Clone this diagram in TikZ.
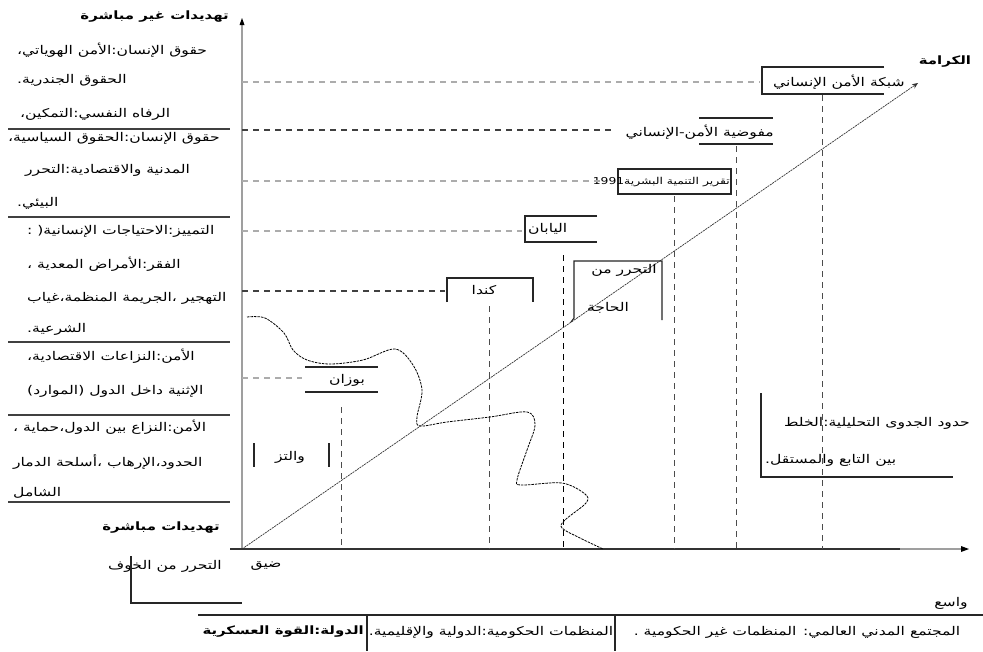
\documentclass[tikz,border=0pt]{standalone}
\usepackage{fontspec}
\newfontfamily\arabicfont[Script=Arabic,FakeStretch=1.3]{DejaVu Sans}
\TeXXeTstate=1
\usetikzlibrary{arrows.meta}
\newcommand{\artxt}[1]{{\arabicfont\beginR #1\endR}}
\begin{document}
\begin{tikzpicture}[x=1pt,y=-1pt,
  lbl/.style={inner sep=0pt,font=\fontsize{12}{14}\selectfont},
  lblb/.style={inner sep=0pt,font=\fontsize{11.5}{14}\selectfont\bfseries},
  lbls/.style={inner sep=0pt,font=\fontsize{9.5}{12}\selectfont},
  axisline/.style={draw=gray!75,line width=1.3pt},
  hdash/.style={draw=gray!65,line width=1.2pt,dash pattern=on 6pt off 5pt},
  hdashdark/.style={draw=gray!50!black,line width=1.3pt,dash pattern=on 6pt off 5pt},
  vdash/.style={draw=black!70,line width=1pt,dash pattern=on 6pt off 5pt},
  boxline/.style={draw=black!85,line width=1.1pt},
  sepline/.style={draw=black!75,line width=1.3pt},
  wavy/.style={draw=black,line width=0.8pt,dash pattern=on 2.5pt off 1pt},
  diag/.style={draw=black!80,line width=0.7pt,dash pattern=on 2pt off 0.8pt}
]
\useasboundingbox[fill=white] (0,0) rectangle (983,651);

% axes
\coordinate (O) at (242,549);
\coordinate (Ytop) at (242,20);
\coordinate (Xleft) at (230,549);
\coordinate (Xend) at (967,549);
\draw[axisline] (O) -- (Ytop);
\fill[black] (242,18) -- (239.5,25) -- (244.5,25) -- cycle;
\draw[axisline,draw=black!80] (Xleft) -- (900,549);
\draw[axisline] (900,549) -- (Xend);
\fill[black] (969,549) -- (961,546) -- (961,552) -- cycle;

% diagonal
\coordinate (Dtop) at (918,83);
\draw[diag,-{Stealth[length=6pt,width=5pt]}] (O) -- (Dtop);

% boxes on chart
\draw[boxline] (884,67) -- (762,67) -- (762,94) -- (884,94);
\node[lbl,anchor=east] (hsn) at (905,82) {\artxt{شبكة الأمن الإنساني}};

\draw[boxline] (699,118) -- (773,118);
\draw[boxline] (699,144) -- (773,144);
\node[lbl,anchor=east] (chs) at (774,132) {\artxt{مفوضية الأمن-الإنساني}};

\draw[boxline] (618,169) rectangle (731,194);
\node[lbls,anchor=east] (hdr) at (730,182) {\artxt{تقرير التنمية البشرية\beginL 1991\endL}};

\draw[boxline] (597,216) -- (525,216) -- (525,242) -- (597,242);
\node[lbl,anchor=west] (jap) at (528,229) {\artxt{اليابان}};

\draw[boxline] (447,302) -- (447,278) -- (533,278) -- (533,302);
\node[lbl] (can) at (484,290) {\artxt{كندا}};

\draw[boxline] (571,322) -- (574,318) -- (574,261) -- (662,261) -- (662,320);
\node[lbl] (want1) at (624,270) {\artxt{التحرر من}};
\node[lbl] (want2) at (608,308) {\artxt{الحاجة}};

\draw[boxline] (305,367) -- (378,367);
\draw[boxline] (305,392) -- (378,392);
\node[lbl] (buz) at (347,380) {\artxt{بوزان}};

\draw[boxline] (254,443) -- (254,467);
\draw[boxline] (329,443) -- (329,467);
\node[lbl] (wal) at (290,457) {\artxt{والتز}};

% horizontal dashed guides
\draw[hdash] (242,82) -- (760,82);
\draw[hdashdark] (242,130) -- (612,130);
\draw[hdash] (242,181) -- (600,181);
\draw[hdash] (242,231) -- (522,231);
\draw[hdashdark,draw=black!75] (242,291) -- (445,291);
\draw[hdash] (242,378) -- (302,378);

% vertical dashed guides
\draw[vdash] (341,407) -- (341,549);
\draw[vdash] (489,306) -- (489,549);
\draw[vdash,draw=black] (563,255) -- (563,549);
\draw[vdash] (674,196) -- (674,549);
\draw[vdash] (736,146) -- (736,549);
\draw[vdash] (822,95) -- (822,549);

% wavy curve
\draw[wavy] plot[smooth,tension=0.55] coordinates {
 (247,317) (265,318) (284,333) (293,350) (307,360) (330,364) (363,360)
 (395,349) (413,365) (422,390) (417,417) (420,426) (447,422) (490,417)
 (527,412) (535,425) (527,450) (517,480) (522,485) (562,483) (585,494)
 (586,503) (565,520) (562,528) (580,538) (603,549)};

% axis labels
\node[lblb] (dign) at (945,62) {\artxt{الكرامة}};
\node[lbl] (narrow) at (266,566) {\artxt{ضيق}};
\node[lbl] (wide) at (951,603) {\artxt{واسع}};

% bracket bottom right
\draw[boxline] (761,393) -- (761,477) -- (953,477);
\node[lbl,anchor=east] (lim1) at (970,423) {\artxt{حدود الجدوى التحليلية:الخلط}};
\node[lbl,anchor=west] (lim2) at (765,460) {\artxt{بين التابع والمستقل.}};

% left column
\node[lblb,anchor=east] (ind) at (229,17) {\artxt{تهديدات غير مباشرة}};
\node[lbl,anchor=west] (a1) at (17,50) {\artxt{حقوق الإنسان:الأمن الهوياتي،}};
\node[lbl,anchor=west] (a2) at (17,80) {\artxt{الحقوق الجندرية.}};
\node[lbl,anchor=west] (a3) at (20,114) {\artxt{الرفاه النفسي:التمكين،}};
\draw[sepline] (8,129) -- (230,129);
\node[lbl,anchor=west] (b1) at (8,138) {\artxt{حقوق الإنسان:الحقوق السياسية،}};
\node[lbl,anchor=west] (b2) at (25,170) {\artxt{المدنية والاقتصادية:التحرر}};
\node[lbl,anchor=west] (b3) at (17,203) {\artxt{البيئي.}};
\draw[sepline] (8,217) -- (230,217);
\node[lbl,anchor=west] (c1) at (27,231) {\artxt{التمييز:الاحتياجات الإنسانية( :}};
\node[lbl,anchor=west] (c2) at (27,264) {\artxt{الفقر:الأمراض المعدية ،}};
\node[lbl,anchor=west] (c3) at (27,298) {\artxt{التهجير ،الجريمة المنظمة،غياب}};
\node[lbl,anchor=west] (c4) at (27,329) {\artxt{الشرعية.}};
\draw[sepline] (8,342) -- (230,342);
\node[lbl,anchor=west] (d1) at (27,356) {\artxt{الأمن:النزاعات الاقتصادية،}};
\node[lbl,anchor=west] (d2) at (27,391) {\artxt{الإثنية داخل الدول (الموارد)}};
\draw[sepline] (8,415) -- (230,415);
\node[lbl,anchor=west] (e1) at (13,427) {\artxt{الأمن:النزاع بين الدول،حماية ،}};
\node[lbl,anchor=west] (e2) at (13,462) {\artxt{الحدود،الإرهاب ،أسلحة الدمار}};
\node[lbl,anchor=west] (e3) at (13,493) {\artxt{الشامل}};
\draw[sepline] (8,502) -- (230,502);
\node[lblb,anchor=east] (dir) at (220,528) {\artxt{تهديدات مباشرة}};

% freedom from fear
\node[lbl,anchor=west] (fear) at (108,566) {\artxt{التحرر من الخوف}};
\draw[boxline] (131,556) -- (131,603) -- (242,603);

% bottom row
\draw[boxline] (198,615) -- (983,615);
\draw[boxline] (367,615) -- (367,651);
\draw[boxline] (615,615) -- (615,651);
\node[lblb,anchor=east] (state) at (364,632) {\artxt{الدولة:القوة العسكرية}};
\node[lbl] (igo) at (491,632) {\artxt{المنظمات الحكومية:الدولية والإقليمية.}};
\node[lbl] (ngo) at (797,632) {\artxt{المجتمع المدني العالمي: المنظمات غير الحكومية .}};
\end{tikzpicture}
\end{document}
